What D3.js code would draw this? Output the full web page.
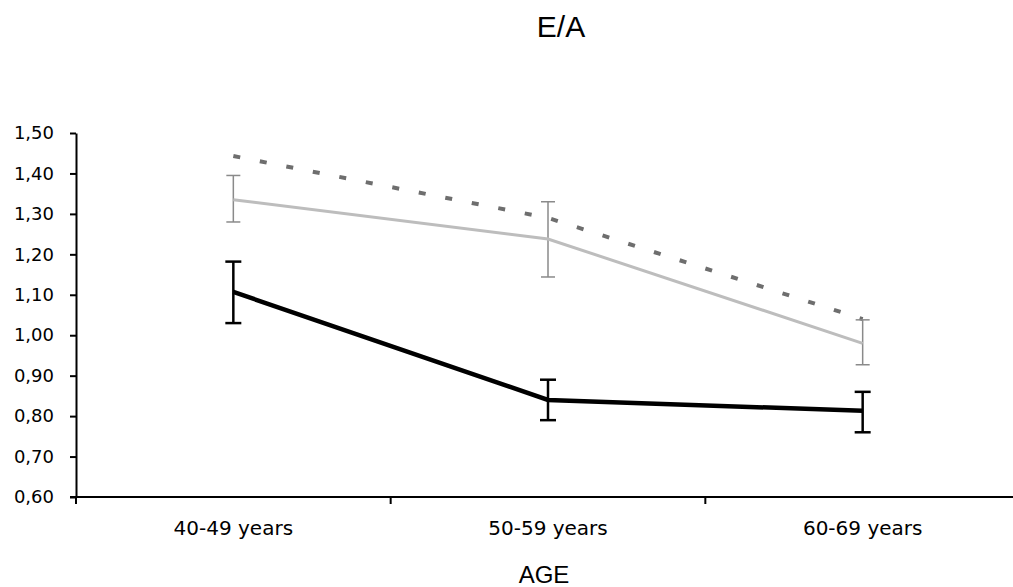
<!DOCTYPE html>
<html>
<head>
<meta charset="utf-8">
<script src="https://cdn.jsdelivr.net/npm/d3@7"></script>
<style>
  body { margin: 0; background: #fff; }
  text { font-family: "Liberation Sans", Arial, sans-serif; fill: #000; }
  .tick-label { font-family: "DejaVu Sans", sans-serif; }
</style>
</head>
<body>
<svg class="chart"></svg>
<script>
const ageGroups = ['40-49 years', '50-59 years', '60-69 years']
const yTicks = [0.6, 0.7, 0.8, 0.9, 1.0, 1.1, 1.2, 1.3, 1.4, 1.5]

// dashed series (no error bars)
const dashedValues = [1.443, 1.29, 1.04]
// light grey series with error bars
const greyValues = [1.335, 1.238, 0.98]
const greyHigh = [1.395, 1.33, 1.038]
const greyLow = [1.28, 1.144, 0.927]
// black series with error bars
const blackValues = [1.107, 0.84, 0.813]
const blackHigh = [1.182, 0.89, 0.86]
const blackLow = [1.03, 0.79, 0.76]

const width = 1013
const height = 587
const left = 76
const bottom = 497

const chart = d3.select('.chart')
  .attr('width', width)
  .attr('height', height)

const xScale = d3.scaleBand()
  .domain(ageGroups)
  .range([left, 1020])

const yScale = d3.scaleLinear()
  .domain([0.6, 1.5])
  .range([bottom, 133])

const xMid = d => xScale(d) + xScale.bandwidth() / 2
const fmt = v => d3.format('.2f')(v).replace('.', ',')

// y axis
const yAxis = chart.append('g')
  .attr('transform', `translate(${left},0)`)
  .call(d3.axisLeft(yScale).tickValues(yTicks).tickFormat(fmt).tickSize(6).tickSizeOuter(0))
yAxis.select('.domain').attr('stroke', '#000').attr('stroke-width', 2)
yAxis.selectAll('.tick line').attr('stroke-width', 2)
yAxis.selectAll('.tick text')
  .attr('class', 'tick-label')
  .attr('font-size', 18)
  .attr('x', -22)

// x axis: ticks sit on band edges
const xAxis = chart.append('g')
  .attr('transform', `translate(0,${bottom})`)
xAxis.append('line')
  .attr('x1', left - 6).attr('x2', 1020)
  .attr('stroke', '#000').attr('stroke-width', 2)
xAxis.selectAll('line.edge')
  .data(ageGroups)
  .enter()
  .append('line')
  .attr('class', 'edge')
  .attr('x1', d => xScale(d)).attr('x2', d => xScale(d))
  .attr('y1', 0).attr('y2', 7)
  .attr('stroke', '#000').attr('stroke-width', 2)
xAxis.selectAll('text')
  .data(ageGroups)
  .enter()
  .append('text')
  .attr('class', 'tick-label')
  .attr('x', xMid)
  .attr('y', 38)
  .attr('text-anchor', 'middle')
  .attr('font-size', 20)
  .text(d => d)

// titles
chart.append('text')
  .attr('x', 561).attr('y', 37)
  .attr('text-anchor', 'middle')
  .attr('font-size', 30)
  .text('E/A')
chart.append('text')
  .attr('x', 544).attr('y', 583)
  .attr('text-anchor', 'middle')
  .attr('font-size', 24)
  .text('AGE')

const line = d3.line()
  .x((v, i) => xMid(ageGroups[i]))
  .y(v => yScale(v))

const errorBars = (high, low, color, strokeWidth, capWidth) => {
  const g = chart.append('g')
  ageGroups.forEach((d, i) => {
    const x = xMid(d)
    g.append('line')
      .attr('x1', x).attr('x2', x)
      .attr('y1', yScale(high[i])).attr('y2', yScale(low[i]))
      .attr('stroke', color).attr('stroke-width', strokeWidth)
    ;[high[i], low[i]].forEach(v => {
      g.append('line')
        .attr('x1', x - capWidth / 2).attr('x2', x + capWidth / 2)
        .attr('y1', yScale(v)).attr('y2', yScale(v))
        .attr('stroke', color).attr('stroke-width', strokeWidth)
    })
  })
}

// dashed series
chart.append('path')
  .datum(dashedValues)
  .attr('d', line)
  .attr('fill', 'none')
  .attr('stroke', '#6e6e6e')
  .attr('stroke-width', 4)
  .attr('stroke-dasharray', '7 20')

// light grey series
errorBars(greyHigh, greyLow, '#8a8a8a', 1.5, 14)
chart.append('path')
  .datum(greyValues)
  .attr('d', line)
  .attr('fill', 'none')
  .attr('stroke', '#bdbdbd')
  .attr('stroke-width', 3)

// black series
errorBars(blackHigh, blackLow, '#000', 2.5, 16)
chart.append('path')
  .datum(blackValues)
  .attr('d', line)
  .attr('fill', 'none')
  .attr('stroke', '#000')
  .attr('stroke-width', 4.5)
</script>
</body>
</html>
